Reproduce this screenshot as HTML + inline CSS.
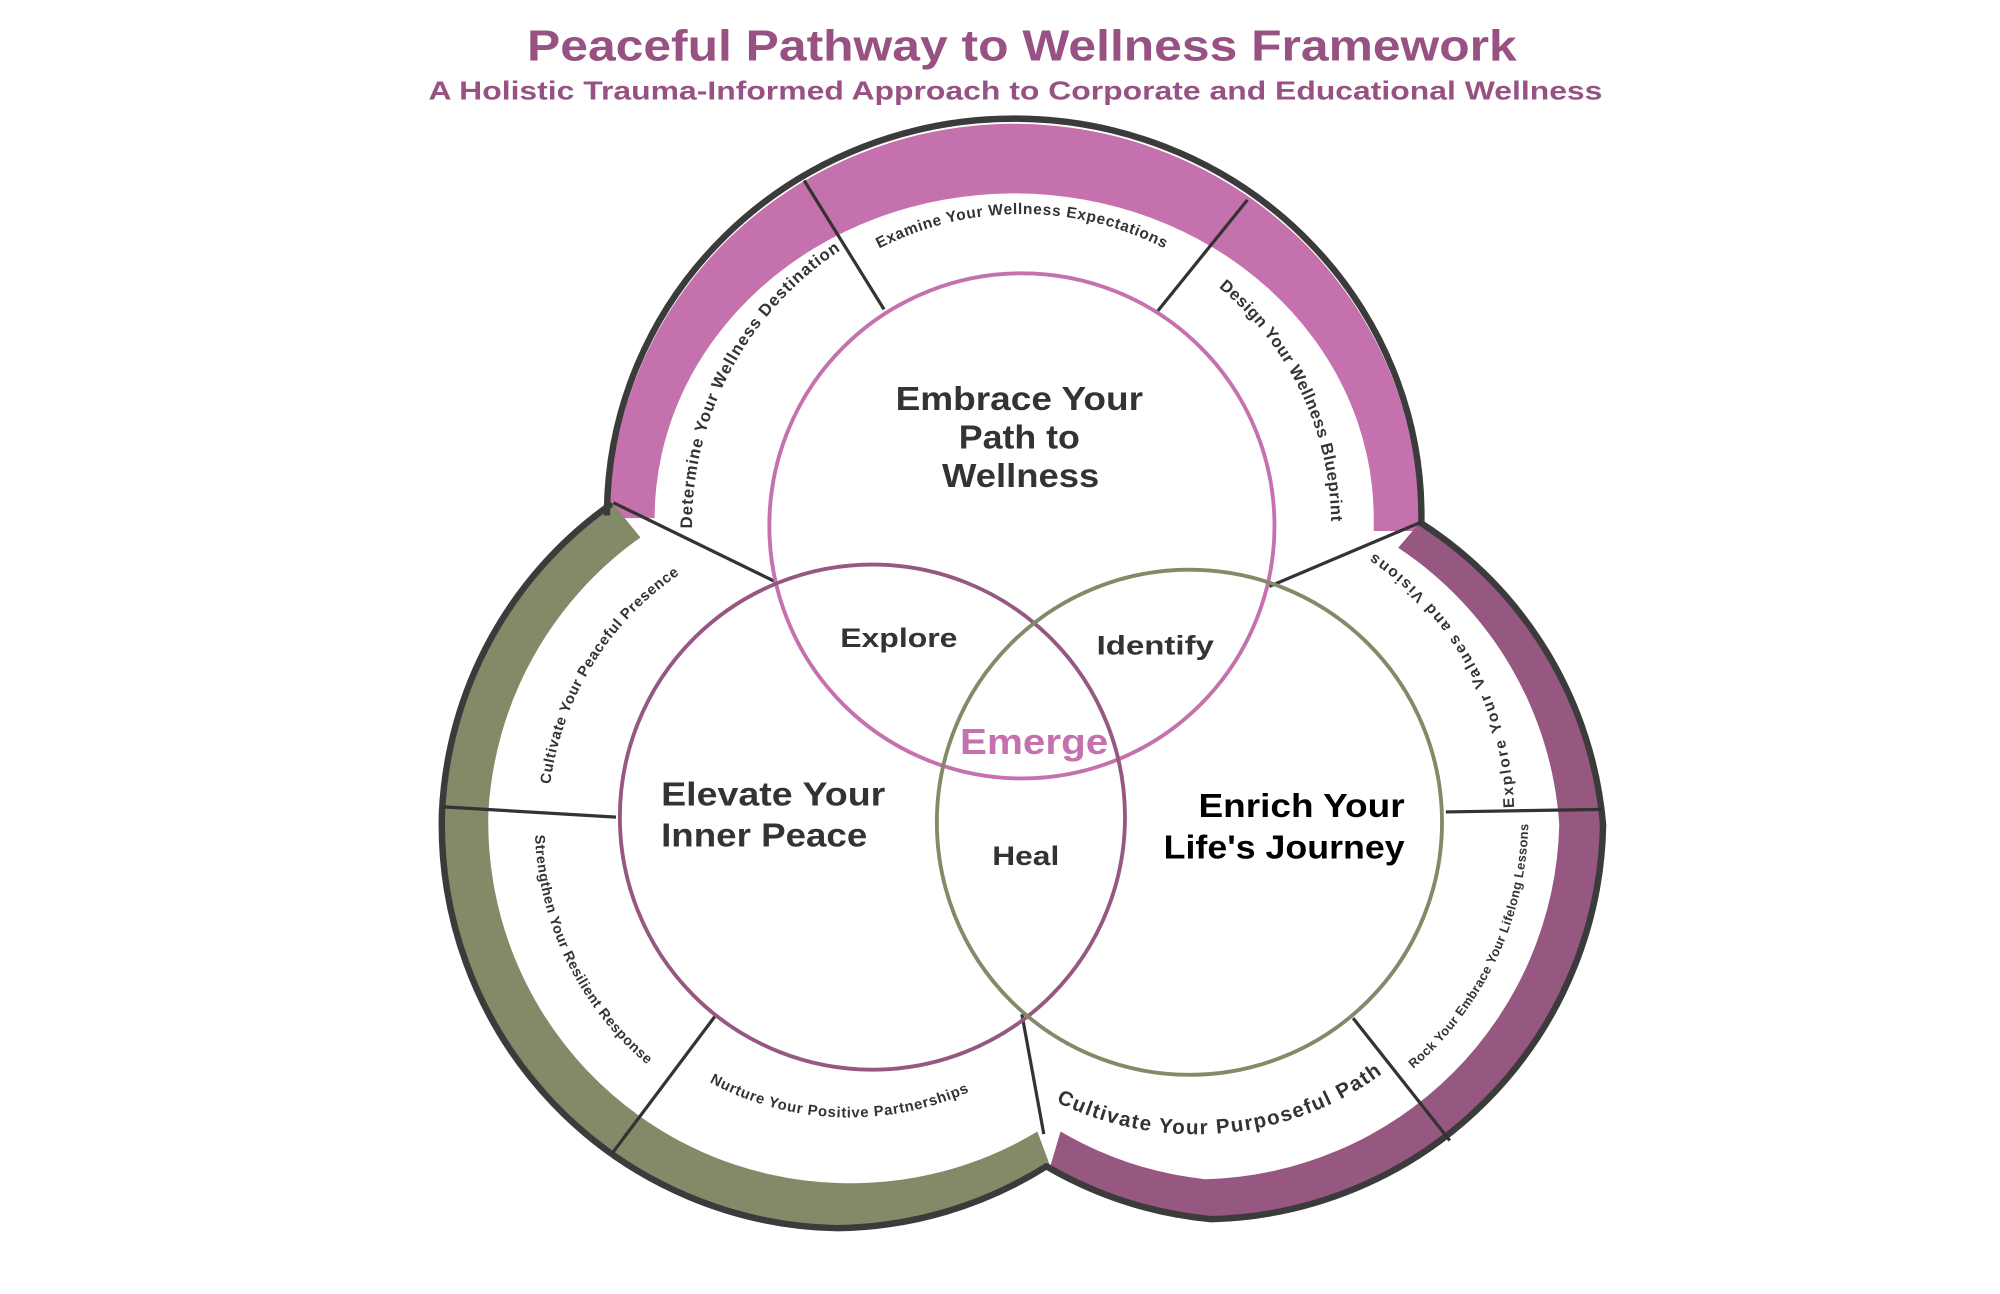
<!DOCTYPE html>
<html><head><meta charset="utf-8"><style>
html,body{margin:0;padding:0;background:#fff;}
svg{display:block;}
text{font-family:"Liberation Sans",sans-serif;font-weight:bold;}
</style></head><body>
<svg width="2000" height="1294" viewBox="0 0 1552 1004" xmlns="http://www.w3.org/2000/svg">
<defs>
<path id="cwT256" d="M793,664 A256,256 0 1 1 793,152 A256,256 0 1 1 793,664"/>
<path id="cwT242" d="M793,650 A242,242 0 1 1 793,166 A242,242 0 1 1 793,650"/>
<path id="cwT240" d="M793,648 A240,240 0 1 1 793,168 A240,240 0 1 1 793,648"/>
<path id="cwL234" d="M659,873 A234,234 0 1 1 659,405 A234,234 0 1 1 659,873"/>
<path id="ccwL244" d="M415,639 A244,244 0 1 0 903,639 A244,244 0 1 0 415,639"/>
<path id="ccwL228" d="M431,639 A228,228 0 1 0 887,639 A228,228 0 1 0 431,639"/>
<path id="ccwR247" d="M681,634 A247,247 0 1 0 1175,634 A247,247 0 1 0 681,634"/>
<path id="ccwR258" d="M670,634 A258,258 0 1 0 1186,634 A258,258 0 1 0 670,634"/>
<path id="ccwR246" d="M682,634 A246,246 0 1 0 1174,634 A246,246 0 1 0 682,634"/>
</defs>

<text x="793" y="47" text-anchor="middle" font-size="34" fill="#975283" textLength="768" lengthAdjust="spacingAndGlyphs">Peaceful Pathway to Wellness Framework</text>
<text x="788" y="77" text-anchor="middle" font-size="20" fill="#975283" textLength="911" lengthAdjust="spacingAndGlyphs">A Holistic Trauma-Informed Approach to Corporate and Educational Wellness</text>

<path d="M473,402 A314,306 0 0 1 1101,402 L1101,412 L1066,412 L1066,402 A279,252 0 0 0 508,402 Z" fill="#c471ad"/>
<path d="M475,390 A310,310 0 0 0 343,630 A313,313 0 0 0 650,953 A313,313 0 0 0 815,905 L805,878 A280,280 0 0 1 652,918 A280,280 0 0 1 379,630 A280,280 0 0 1 497,417 Z" fill="#838a68"/>
<path d="M1103,404 A310,310 0 0 1 1244,640 A312,312 0 0 1 940,946 A312,312 0 0 1 815,905 L823,878 A282,282 0 0 0 935,915 A282,282 0 0 0 1210,640 A280,280 0 0 0 1085,425 Z" fill="#965781"/>

<g fill="none" stroke="#3b3b3b" stroke-width="5" stroke-linecap="round">
<path d="M471,392 L471,400 A316,308 0 0 1 1103,400 L1103,406"/>
<path d="M473,392 A310,310 0 0 0 343,630 A313,313 0 0 0 650,953 A313,313 0 0 0 812,905"/>
<path d="M1103,406 A310,310 0 0 1 1244,640 A312,312 0 0 1 940,946 A312,312 0 0 1 812,905"/>
</g>

<g stroke="#333" stroke-width="2.5">
<line x1="624" y1="140" x2="686" y2="240"/>
<line x1="968" y1="155" x2="897" y2="243"/>
<line x1="476" y1="390" x2="603" y2="452"/>
<line x1="1103" y1="405" x2="985" y2="455"/>
<line x1="343" y1="626" x2="478" y2="634"/>
<line x1="556" y1="787" x2="475" y2="895"/>
<line x1="793" y1="787" x2="810" y2="880"/>
<line x1="1122" y1="630" x2="1243" y2="628"/>
<line x1="1050" y1="790" x2="1125" y2="885"/>
</g>

<circle cx="793" cy="408" r="196" fill="none" stroke="#c471ad" stroke-width="3"/>
<circle cx="677" cy="634" r="196" fill="none" stroke="#965781" stroke-width="3"/>
<circle cx="923" cy="638" r="196" fill="none" stroke="#838a68" stroke-width="3"/>

<g fill="#333">
<text font-size="13"><textPath href="#cwT256" startOffset="400" textLength="255" lengthAdjust="spacing">Determine Your  Wellness Destination</textPath></text>
<text font-size="12"><textPath href="#cwT242" startOffset="645" textLength="230" lengthAdjust="spacing">Examine Your  Wellness Expectations</textPath></text>
<text font-size="13"><textPath href="#cwT240" startOffset="919" textLength="208" lengthAdjust="spacing">Design Your Wellness Blueprint</textPath></text>
<text font-size="11.5"><textPath href="#cwL234" startOffset="398" textLength="197" lengthAdjust="spacing">Cultivate Your Peaceful Presence</textPath></text>
<text font-size="11"><textPath href="#ccwL244" startOffset="9" textLength="204" lengthAdjust="spacing">Strengthen Your Resilient Response</textPath></text>
<text font-size="11.5"><textPath href="#ccwL228" startOffset="245" textLength="209" lengthAdjust="spacing">Nurture Your Positive Partnerships</textPath></text>
<text font-size="12"><textPath href="#ccwR247" startOffset="783" textLength="234" lengthAdjust="spacing">Explore Your Values and Visions</textPath></text>
<text font-size="10"><textPath href="#ccwR258" startOffset="589" textLength="216" lengthAdjust="spacing">Rock Your Embrace Your Lifelong Lessons</textPath></text>
<text font-size="16"><textPath href="#ccwR246" startOffset="274" textLength="267" lengthAdjust="spacing">Cultivate Your Purposeful Path</textPath></text>
</g>

<g fill="#333" font-size="26">
<text x="695" y="318" textLength="192" lengthAdjust="spacingAndGlyphs">Embrace Your</text>
<text x="744" y="348" textLength="94" lengthAdjust="spacingAndGlyphs">Path to</text>
<text x="731" y="378" textLength="122" lengthAdjust="spacingAndGlyphs">Wellness</text>
<text x="513" y="625" textLength="174" lengthAdjust="spacingAndGlyphs">Elevate Your</text>
<text x="513" y="657" textLength="160" lengthAdjust="spacingAndGlyphs">Inner Peace</text>
</g>
<g fill="#000" font-size="26">
<text x="930" y="634" textLength="160" lengthAdjust="spacingAndGlyphs">Enrich Your</text>
<text x="903" y="666" textLength="187" lengthAdjust="spacingAndGlyphs">Life's Journey</text>
</g>
<g fill="#333" font-size="21">
<text x="652" y="502" textLength="91" lengthAdjust="spacingAndGlyphs">Explore</text>
<text x="851" y="508" textLength="91" lengthAdjust="spacingAndGlyphs">Identify</text>
<text x="770" y="671" textLength="52" lengthAdjust="spacingAndGlyphs">Heal</text>
</g>
<text x="745" y="585" font-size="28" fill="#c471ad" textLength="115" lengthAdjust="spacingAndGlyphs">Emerge</text>
</svg>
</body></html>
